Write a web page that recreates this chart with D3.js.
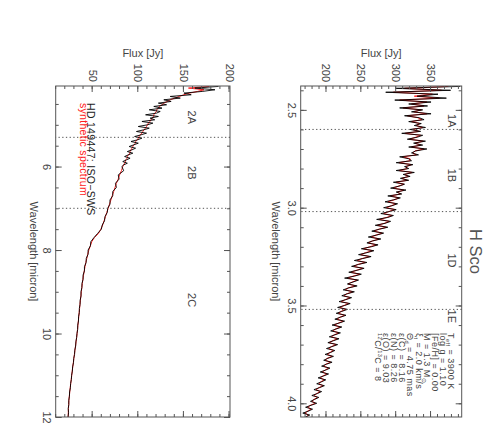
<!DOCTYPE html>
<html>
<head>
<meta charset="utf-8">
<script src="https://cdn.jsdelivr.net/npm/d3@7"></script>
<style>
  body { margin: 0; background: #fff; }
  svg text { font-family: "Liberation Sans", Arial, sans-serif; }
</style>
</head>
<body>
<svg id="chart" width="489" height="445"></svg>
<script>
// ---- band 1 (short wavelengths), micron / Jy
const waveSW = [2.38,2.39,2.40,2.41,2.42,2.43,2.44,2.45,2.46,2.47,
  2.48,2.49,2.50,2.51,2.52,2.53,2.54,2.55,2.56,2.57,
  2.58,2.59,2.60,2.61,2.62,2.63,2.64,2.65,2.66,2.67,
  2.68,2.69,2.70,2.71,2.72,2.73,2.74,2.75,2.76,2.77,
  2.78,2.79,2.80,2.81,2.82,2.83,2.84,2.85,2.86,2.87,
  2.88,2.89,2.90,2.91,2.92,2.93,2.94,2.95,2.96,2.97,
  2.98,2.99,3.00,3.01,3.02,3.03,3.04,3.05,3.06,3.07,
  3.08,3.09,3.10,3.11,3.12,3.13,3.14,3.15,3.16,3.17,
  3.18,3.19,3.20,3.21,3.22,3.23,3.24,3.25,3.26,3.27,
  3.28,3.29,3.30,3.31,3.32,3.33,3.34,3.35,3.36,3.37,
  3.38,3.39,3.40,3.41,3.42,3.43,3.44,3.45,3.46,3.47,
  3.48,3.49,3.50,3.51,3.52,3.53,3.54,3.55,3.56,3.57,
  3.58,3.59,3.60,3.61,3.62,3.63,3.64,3.65,3.66,3.67,
  3.68,3.69,3.70,3.71,3.72,3.73,3.74,3.75,3.76,3.77,
  3.78,3.79,3.80,3.81,3.82,3.83,3.84,3.85,3.86,3.87,
  3.88,3.89,3.90,3.91,3.92,3.93,3.94,3.95,3.96,3.97,
  3.98,3.99,4.00,4.01,4.02,4.03,4.04,4.05,4.06,4.07];
const obsSW = [392,300,378,285,360,330,372,298,350,318,
  345,305,338,322,350,312,333,340,318,336,
  326,342,320,335,308,338,330,316,342,325,
  338,318,344,328,322,332,305,318,322,300,
  324,312,318,300,326,310,320,306,318,296,
  312,304,292,314,300,308,288,306,296,284,
  302,294,282,300,290,278,296,288,272,292,
  284,270,288,276,265,282,272,260,278,266,
  258,274,264,250,268,258,246,264,252,240,
  258,246,236,254,244,232,250,240,226,246,
  238,230,244,232,224,240,230,222,236,228,
  218,234,226,216,230,222,214,228,220,212,
  226,218,208,222,214,206,220,212,204,218,
  210,202,216,208,200,212,206,198,210,202,
  196,208,200,193,205,199,191,203,196,188,
  199,193,186,197,190,182,193,187,179,189,
  183,177,186,178,170,180,174,166,176,170];
const synSW = [375,312,365,296,352,326,362,305,344,322,
  340,310,336,325,344,316,331,337,322,334,
  329,338,323,333,313,335,328,319,339,327,
  335,322,340,327,324,329,309,320,320,304,
  322,314,316,304,323,312,318,308,316,300,
  311,303,296,311,302,306,292,304,297,288,
  300,293,286,298,289,282,294,286,276,290,
  283,273,286,275,268,280,271,264,276,266,
  260,272,262,253,266,256,249,262,251,244,
  256,245,239,252,243,235,248,238,230,244,
  237,231,242,231,227,238,229,225,234,227,
  221,232,225,219,228,221,217,226,219,215,
  224,217,211,220,213,209,218,211,207,216,
  209,204,214,207,203,210,205,201,208,201,
  198,206,199,196,203,198,194,201,195,191,
  197,192,189,195,189,185,191,186,182,187,
  182,179,184,177,173,178,173,169,174,171];

// ---- band 2 (long wavelengths)
const waveLW = [4.08,4.12,4.16,4.20,4.24,4.28,4.32,4.36,4.40,4.44,
  4.48,4.52,4.56,4.60,4.64,4.68,4.72,4.76,4.80,4.84,
  4.88,4.92,4.96,5.00,5.04,5.08,5.12,5.16,5.20,5.24,
  5.28,5.32,5.36,5.40,5.44,5.48,5.52,5.56,5.60,5.64,
  5.68,5.72,5.76,5.80,5.84,5.88,5.92,5.96,6.00,
  6.1,6.2,6.3,6.4,6.5,6.6,6.7,6.8,6.9,7.0,7.1,7.2,7.3,7.4,7.5,7.6,7.7,7.8,7.9,8.0,
  8.1,8.2,8.3,8.4,8.5,8.6,8.7,8.8,8.9,9.0,9.1,9.2,9.3,9.4,9.5,9.6,9.7,9.8,9.9,10.0,
  10.1,10.2,10.3,10.4,10.5,10.6,10.7,10.8,10.9,11.0,11.1,11.2,11.3,11.4,11.5,11.6,11.7,11.8,11.9,12.0];
const obsLW = [188,162,184,170,150,158,135,146,128,136,
  122,131,117,126,112,124,120,108,122,113,
  118,104,116,110,100,112,106,98,109,103,
  96,104,99,92,100,95,90,97,93,88,
  94,89,85,91,87,83,88,84,82,
  84,78,79,75,76,72,72,69,69,66.5,66,63.5,63,60.5,59.5,55.5,51.5,48,47.5,45,
  45,43,42.8,41,41,39.5,39.5,38.3,38.2,37.2,37.3,36.3,36.2,35.4,35.4,34.5,34.5,33.6,33.6,32.8,
  32.4,31.6,31.4,30.4,30.2,29.2,29,28,27.8,26.9,26.7,25.8,25.6,24.7,24.6,23.8,23.9,23.2,23.6,23];
const synLW = [178,155,172,165,156,150,145,140,135,132,
  128,126,123,122,120,120,118,117,117,115,
  114,113,111,110,109,108,106,105,104,102,
  101,100,99,97,97,95,94,93,92,91,
  91,89,88,88,86,86,85,84,83,
  81.5,79.5,78,76,74.5,73,71.5,70,68.5,67,65.5,64,62.5,61,59,56.5,52,49,47.5,45.8,
  44.6,43.6,42.5,41.6,40.8,40,39.3,38.7,38.1,37.6,37.1,36.6,36.1,35.7,35.2,34.8,34.3,33.9,33.4,33,
  32.4,31.8,31.2,30.6,30,29.4,28.8,28.2,27.6,27.1,26.5,26,25.4,24.9,24.4,24,23.7,23.5,23.3,23.2];

// band edges and labels
const edgesSW = [2.60, 3.02, 3.52];
const bandNamesSW = ["1A", "1B", "1D", "1E"];
const bandPosSW = [2.556, 2.835, 3.27, 3.555];
const edgesLW = [5.30, 7.00];
const bandNamesLW = ["2A", "2B", "2C"];
const bandPosLW = [4.82, 6.15, 9.2];

const waveTicksSW = [2.5, 3.0, 3.5, 4.0];
const fluxTicksSW = [200, 250, 300, 350];
const waveTicksLW = [6, 8, 10, 12];
const fluxTicksLW = [50, 100, 150, 200];

const params = [
  [["T", ""], ["eff", "sub"], [" = 3900 K", ""]],
  [["log g = 1.10", ""]],
  [["[Fe/H] = 0.00", ""]],
  [["M = 1.3 M", ""], ["\u2299", "sub"]],
  [["\u03be", ""], ["t", "sub"], [" = 2.0 km/s", ""]],
  [["\u0398", ""], ["d", "sub"], [" = 4.75 mas", ""]],
  [["\u03b5(C) = 8.16", ""]],
  [["\u03b5(N) = 8.26", ""]],
  [["\u03b5(O) = 9.03", ""]],
  [["12", "sup"], ["C/", ""], ["13", "sup"], ["C = 8", ""]]
];

const svg = d3.select("#chart");
const frameColor = "#555";
const textColor = "#444";

// each panel is drawn as a normal plot, then turned 90 degrees clockwise
function drawPanel(p) {
  const W = p.bottom - p.top;
  const H = p.right - p.left;
  const g = svg.append("g")
    .attr("transform", `translate(${p.right},${p.top}) rotate(90)`);

  const x = d3.scaleLinear().domain(p.waveDomain).range([0, W]);
  const y = d3.scaleLinear().domain(p.fluxDomain).range([H, 0]);

  g.append("clipPath").attr("id", p.id + "-clip")
    .append("rect").attr("width", W).attr("height", H);

  const line = d3.line().x(d => x(d[0])).y(d => y(d[1]));
  const plot = g.append("g").attr("clip-path", `url(#${p.id}-clip)`);
  plot.append("path")
    .datum(d3.zip(p.wave, p.syn))
    .attr("fill", "none").attr("stroke", "#ff2020").attr("stroke-width", 1)
    .attr("d", line);
  plot.append("path")
    .datum(d3.zip(p.wave, p.obs))
    .attr("fill", "none").attr("stroke", "#000").attr("stroke-width", 0.9)
    .attr("d", line);

  // band boundaries
  g.selectAll(".edge").data(p.edges).enter().append("line")
    .attr("x1", d => x(d)).attr("x2", d => x(d))
    .attr("y1", 0).attr("y2", H)
    .attr("stroke", frameColor).attr("stroke-width", 1)
    .attr("stroke-dasharray", "1.3,2.4");

  g.selectAll(".band").data(p.bandNames).enter().append("text")
    .attr("x", (d, i) => x(p.bandPos[i]))
    .attr("y", p.bandY)
    .attr("text-anchor", "middle")
    .attr("font-size", 11)
    .attr("fill", textColor)
    .text(d => d);

  // axes: labelled on bottom/left, mirrored ticks on top/right
  const minorW = d3.range(Math.ceil(p.waveDomain[0] / p.waveMinor), p.waveDomain[1] / p.waveMinor + 0.001)
    .map(k => +(k * p.waveMinor).toFixed(3));
  const minorF = d3.range(Math.ceil(p.fluxDomain[0] / 10), p.fluxDomain[1] / 10 + 0.001).map(k => k * 10);

  function styleAxis(sel) {
    sel.select(".domain").remove();
    sel.selectAll("line").attr("stroke", frameColor);
    sel.selectAll("text").attr("font-size", 11).attr("fill", textColor)
      .attr("font-family", "Liberation Sans, Arial, sans-serif");
  }

  g.append("g").attr("transform", `translate(0,${H})`)
    .call(d3.axisBottom(x).tickValues(minorW).tickSize(-3).tickFormat(""))
    .call(styleAxis);
  g.append("g").attr("transform", `translate(0,${H})`)
    .call(d3.axisBottom(x).tickValues(p.waveTicks).tickSize(-6).tickPadding(5).tickFormat(d3.format(p.waveFmt)))
    .call(styleAxis);
  g.append("g")
    .call(d3.axisTop(x).tickValues(minorW).tickSize(-3).tickFormat(""))
    .call(styleAxis);
  g.append("g")
    .call(d3.axisTop(x).tickValues(p.waveTicks).tickSize(-6).tickFormat(""))
    .call(styleAxis);

  g.append("g")
    .call(d3.axisLeft(y).tickValues(minorF).tickSize(-3).tickFormat(""))
    .call(styleAxis);
  g.append("g")
    .call(d3.axisLeft(y).tickValues(p.fluxTicks).tickSize(-6).tickPadding(4).tickFormat(d3.format("d")))
    .call(styleAxis);
  g.append("g").attr("transform", `translate(${W},0)`)
    .call(d3.axisRight(y).tickValues(minorF).tickSize(-3).tickFormat(""))
    .call(styleAxis);
  g.append("g").attr("transform", `translate(${W},0)`)
    .call(d3.axisRight(y).tickValues(p.fluxTicks).tickSize(-6).tickFormat(""))
    .call(styleAxis);

  g.append("rect")
    .attr("width", W).attr("height", H)
    .attr("fill", "none").attr("stroke", frameColor).attr("stroke-width", 1);

  g.append("text")
    .attr("x", W / 2).attr("y", H + p.xTitleOffset)
    .attr("text-anchor", "middle").attr("font-size", 11).attr("fill", textColor)
    .text("Wavelength [micron]");

  g.append("text")
    .attr("transform", `translate(-29,${H / 2}) rotate(-90)`)
    .attr("text-anchor", "middle").attr("font-size", 11).attr("fill", textColor)
    .text("Flux [Jy]");

  return { g, x, y, W, H };
}

const sw = drawPanel({
  id: "sw", left: 300.7, right: 461.7, top: 86, bottom: 417,
  waveDomain: [2.378, 4.07], fluxDomain: [163, 394],
  wave: waveSW, obs: obsSW, syn: synSW,
  edges: edgesSW, bandNames: bandNamesSW, bandPos: bandPosSW, bandY: 13.5,
  waveTicks: waveTicksSW, fluxTicks: fluxTicksSW, waveMinor: 0.1, waveFmt: ".1f",
  xTitleOffset: 29
});

const lw = drawPanel({
  id: "lw", left: 55.7, right: 230, top: 86, bottom: 417,
  waveDomain: [4.07, 12.0], fluxDomain: [9.5, 200.5],
  wave: waveLW, obs: obsLW, syn: synLW,
  edges: edgesLW, bandNames: bandNamesLW, bandPos: bandPosLW, bandY: 42,
  waveTicks: waveTicksLW, fluxTicks: fluxTicksLW, waveMinor: 0.5, waveFmt: "d",
  xTitleOffset: 26
});

// star name
sw.g.append("text")
  .attr("x", sw.W / 2).attr("y", -8.5)
  .attr("text-anchor", "middle").attr("font-size", 16.5).attr("fill", "#555")
  .text("H Sco");

// stellar parameters
const par = sw.g.append("g")
  .attr("font-size", 9).attr("fill", textColor)
  .style("font-family", "'DejaVu Sans', sans-serif")
  .attr("letter-spacing", 0.5);
params.forEach((parts, i) => {
  const t = par.append("text").attr("x", 247).attr("y", 13.3 + i * 8.2);
  let shift = 0;
  parts.forEach(([s, kind]) => {
    const want = kind === "sub" ? 2 : kind === "sup" ? -3 : 0;
    const ts = t.append("tspan").text(s).attr("dy", want - shift);
    if (kind) ts.attr("font-size", 5.5);
    shift = want;
  });
});

// legend
lw.g.append("text")
  .attr("x", 17).attr("y", 143)
  .attr("font-size", 10.5).attr("fill", "#222").attr("letter-spacing", 0.3)
  .text("HD 149447: ISO\u2212SWS");
lw.g.append("text")
  .attr("x", 17).attr("y", 150.5)
  .attr("font-size", 10.5).attr("fill", "#ff2020").attr("letter-spacing", 0.3)
  .text("synthetic spectrum");
</script>
</body>
</html>
